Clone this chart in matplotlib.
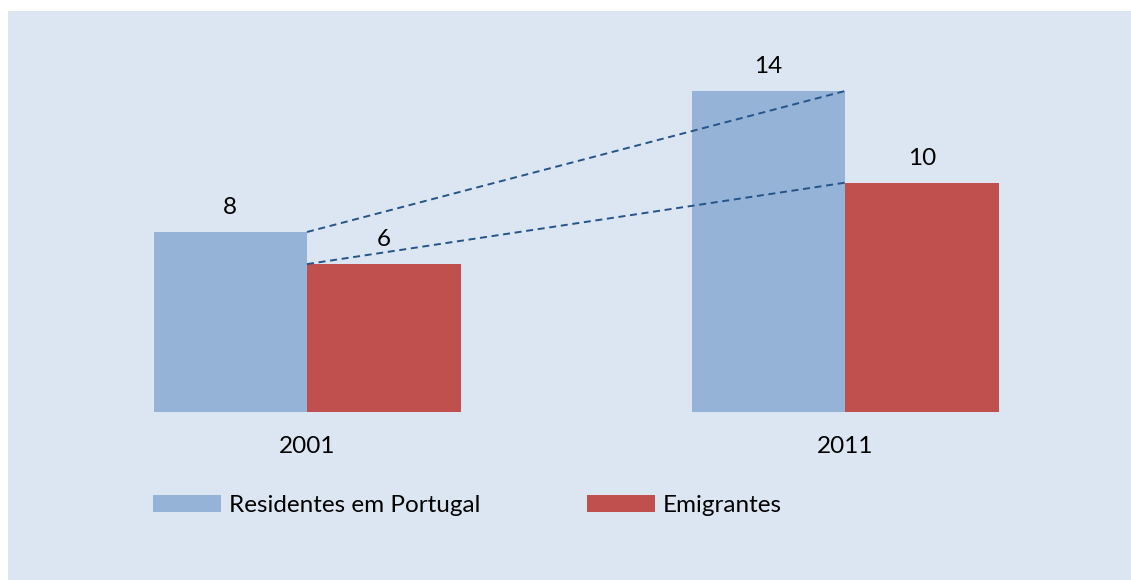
import matplotlib
matplotlib.use("Agg")
from matplotlib import pyplot as plt
from matplotlib.patches import Rectangle

# Data
years = ["2001", "2011"]
residentes = [7.85, 14.0]
emigrantes = [6.45, 10.0]
residentes_labels = ["8", "14"]
emigrantes_labels = ["6", "10"]
series_names = ["Residentes em Portugal", "Emigrantes"]

blue = "#95B3D7"
red = "#C0504D"
bg = "#DCE6F2"
line_color = "#24548A"

plt.rcParams["font.family"] = ["Lato", "DejaVu Sans"]
fs = 17.5

W, H = 1131, 580
fig = plt.figure(figsize=(W / 100, H / 100), dpi=100, facecolor="white")
fig.patches.append(Rectangle((8 / W, 0), 1 - 8 / W, 1 - 11 / H,
                             transform=fig.transFigure, facecolor=bg,
                             edgecolor="none", zorder=-1))

# plot area in pixels: x 38..1114, baseline at y=412, 22.93 px per unit
px_per_unit = 22.93
ax_top, ax_bot = 40, 412
ax = fig.add_axes([38 / W, 1 - ax_bot / H, 1076 / W, (ax_bot - ax_top) / H])
ax.set_facecolor("none")
ax.set_xlim(-0.5, 1.5)
ax.set_ylim(0, (ax_bot - ax_top) / px_per_unit)

x = list(range(len(years)))
w = 153.5 / 538
b1 = ax.bar([i - w / 2 for i in x], residentes, w, color=blue, label=series_names[0])
b2 = ax.bar([i + w / 2 for i in x], emigrantes, w, color=red, label=series_names[1])

# dashed series lines
ax.plot(x, residentes, ls=(0, (3.6, 2.4)), color=line_color, lw=1.4)
ax.plot(x, emigrantes, ls=(0, (3.6, 2.4)), color=line_color, lw=1.4)

for bars, labels in [(b1, residentes_labels), (b2, emigrantes_labels)]:
    ax.bar_label(bars, labels=labels, padding=10, fontsize=fs, color="black")

for s in ax.spines.values():
    s.set_visible(False)
ax.set_yticks([])
ax.set_xticks(x)
ax.set_xticklabels(years, fontsize=fs)
ax.tick_params(axis="x", length=0, pad=17.5)

leg = fig.legend(handles=[b1, b2], loc="upper left", bbox_to_anchor=(143 / W, 1 - 485 / H),
                 ncol=2, frameon=False, fontsize=fs, handlelength=2.8, handleheight=0.73,
                 handletextpad=0.33, columnspacing=4.4, borderaxespad=0)

fig.savefig("out.png", dpi=100, facecolor="white")
